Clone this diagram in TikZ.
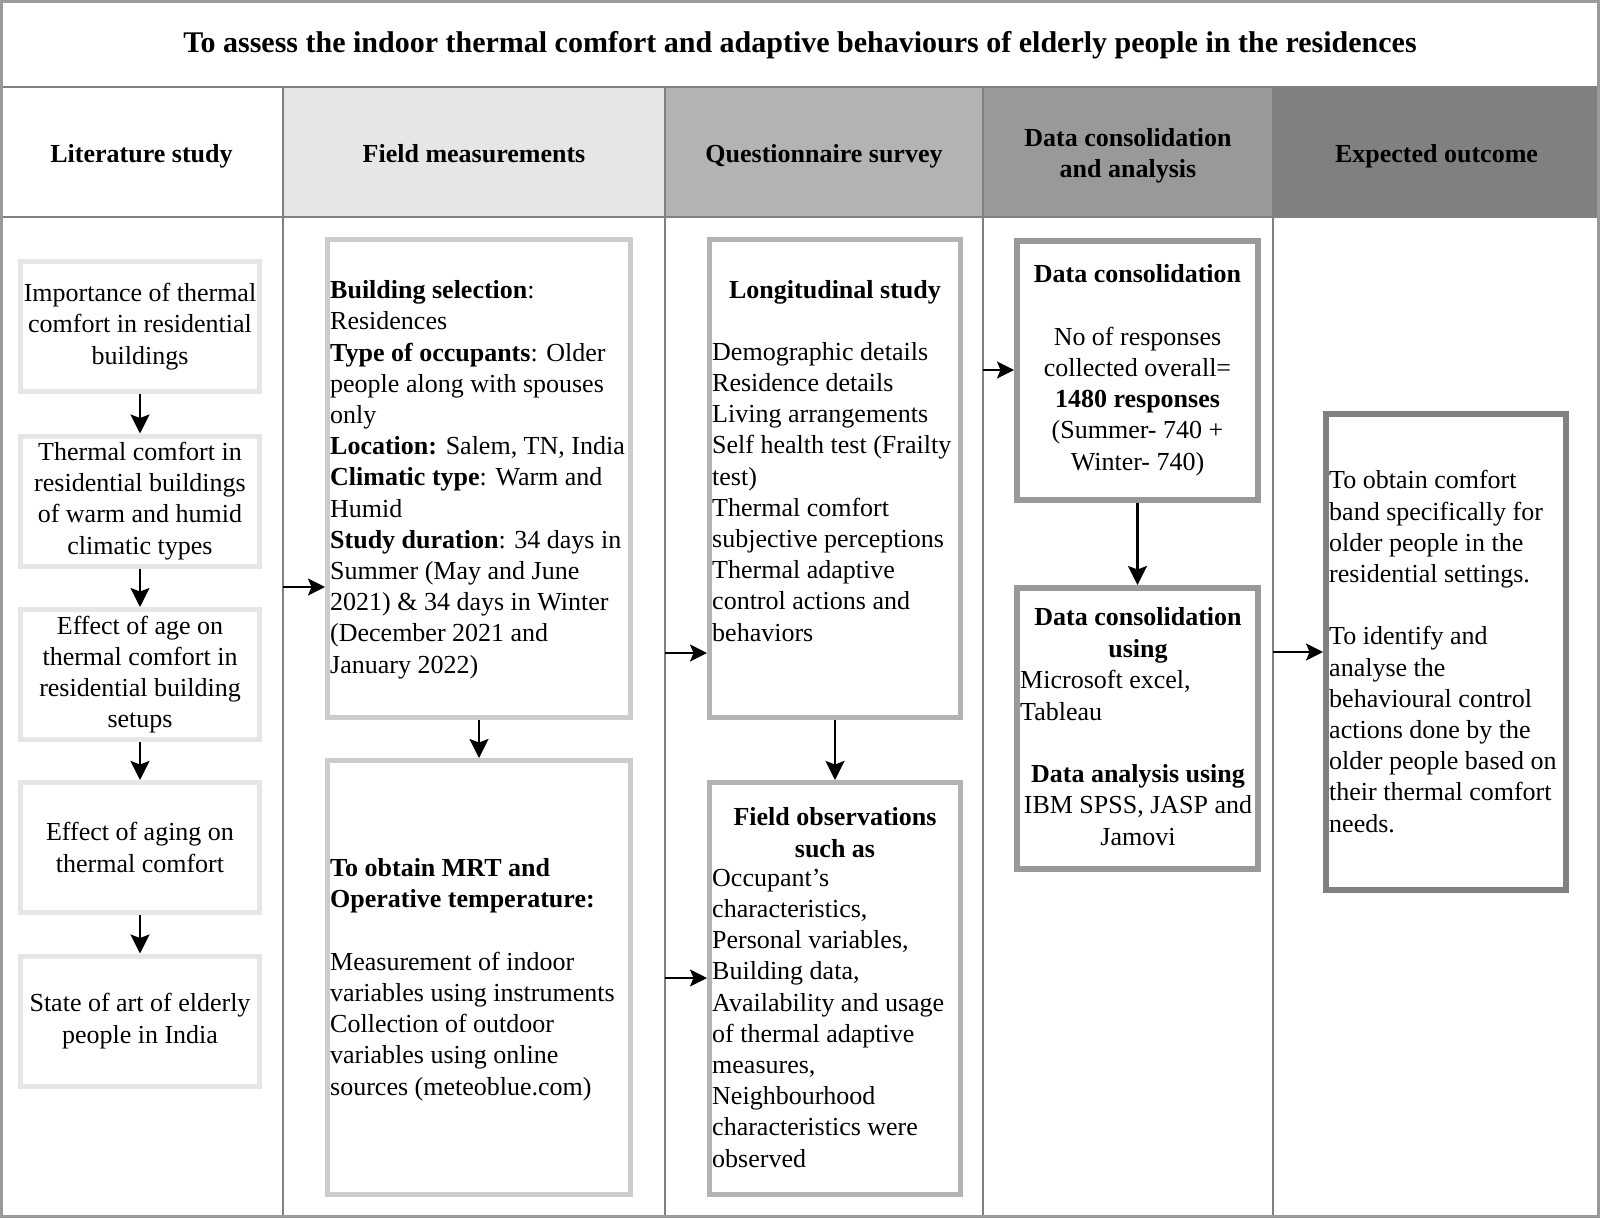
\documentclass[tikz,border=0pt]{standalone}
\usepackage{fontspec}
\setmainfont{Liberation Serif}
\usetikzlibrary{arrows.meta}
\definecolor{gridc}{HTML}{808080}
\definecolor{outc}{HTML}{9A9A9A}
\definecolor{bxa}{HTML}{E6E6E6}
\definecolor{bxb}{HTML}{CCCCCC}
\definecolor{bxc}{HTML}{B3B3B3}
\definecolor{bxd}{HTML}{999999}
\definecolor{bxe}{HTML}{808080}
\definecolor{hb}{HTML}{E6E6E6}
\definecolor{hc}{HTML}{B3B3B3}
\definecolor{hd}{HTML}{999999}
\definecolor{he}{HTML}{808080}
\begin{document}
\begin{tikzpicture}[x=1pt,y=-1pt,
  bodyf/.style={font=\fontsize{26}{31.2}\selectfont},
  txt/.style={bodyf, inner sep=0pt, align=left, anchor=base west},
  txtc/.style={bodyf, inner sep=0pt, align=center, anchor=base},
  hdr/.style={font=\fontsize{26}{31}\selectfont\bfseries, inner sep=0pt, align=center, anchor=base},
  boxa/.style={draw=bxa, line width=5pt, minimum width=239pt, minimum height=130pt, inner sep=0pt, bodyf, align=center},
  boxb/.style={draw=bxb, line width=5pt, minimum width=303pt, inner sep=0pt},
  boxc/.style={draw=bxc, line width=5pt, minimum width=251pt, inner sep=0pt},
  boxd/.style={draw=bxd, line width=6pt, minimum width=241pt, inner sep=0pt},
  boxe/.style={draw=bxe, line width=6pt, minimum width=240pt, inner sep=0pt},
  arr/.style={draw=black, line width=2.5pt, -{Stealth[length=19pt,width=19pt,inset=3.5pt]}},
  harr/.style={draw=black, line width=2pt, -{Stealth[length=17pt,width=17pt,inset=3.5pt]}},
  gridline/.style={draw=gridc, line width=1.8pt}
]
\useasboundingbox (0,0) rectangle (1600,1218);
% header fills
\fill[hb] (283,87) rectangle (665,217);
\fill[hc] (665,87) rectangle (983,217);
\fill[hd] (983,87) rectangle (1273,217);
\fill[he] (1273,87) rectangle (1600,217);
% grid
\draw[gridline] (0,87) -- (1600,87);
\draw[gridline] (0,217) -- (1600,217);
\draw[gridline] (283,87) -- (283,1218);
\draw[gridline] (665,87) -- (665,1218);
\draw[gridline] (983,87) -- (983,1218);
\draw[gridline] (1273,87) -- (1273,1218);
\draw[draw=outc, line width=3pt] (1.5,1.5) rectangle (1598.5,1216.5);
% title and headers (base anchor = baseline of last line)
\node[font=\fontsize{30}{36}\selectfont\bfseries, inner sep=0pt, anchor=base] (title) at (800,52)
  {To assess the indoor thermal comfort and adaptive behaviours of elderly people in the residences};
\node[hdr] (h1) at (141.5,162) {Literature study};
\node[hdr] (h2) at (474,162) {Field measurements};
\node[hdr] (h3) at (824,162) {Questionnaire survey};
\node[hdr] (h4) at (1128,177) {Data consolidation\\and analysis};
\node[hdr] (h5) at (1436.5,162) {Expected outcome};
% column 1
\node[boxa] (b1) at (140,326.5) {Importance of thermal\\comfort in residential\\buildings};
\node[boxa] (b2) at (140,501) {Thermal comfort in\\residential buildings\\of warm and humid\\climatic types};
\node[boxa] (b3) at (140,674.5) {Effect of age on\\thermal comfort in\\residential building\\setups};
\node[boxa] (b4) at (140,847.5) {Effect of aging on\\thermal comfort};
\node[boxa] (b5) at (140,1021) {State of art of elderly\\people in India};
\draw[arr] (b1.south) -- (b2.north);
\draw[arr] (b2.south) -- (b3.north);
\draw[arr] (b3.south) -- (b4.north);
\draw[arr] (b4.south) -- (b5.north);
% column 2
\node[boxb, minimum height=478pt] (bA) at (479,478.5) {};
\node[boxb, minimum height=434pt] (bB) at (479,977.5) {};
\node[txt] (tA) at (330,673) {\textbf{Building selection}:\\
Residences\\
\textbf{Type of occupants}: Older\\
people along with spouses\\
only\\
\textbf{Location:} Salem, TN, India\\
\textbf{Climatic type}: Warm and\\
Humid\\
\textbf{Study duration}: 34 days in\\
Summer (May and June\\
2021) \& 34 days in Winter\\
(December 2021 and\\
January 2022)};
\node[txt] (tB) at (330,1095) {\textbf{To obtain MRT and}\\
\textbf{Operative temperature:}\\[31.2pt]
Measurement of indoor\\
variables using instruments\\
Collection of outdoor\\
variables using online\\
sources (meteoblue.com)};
\coordinate (dA) at (283,587);
\draw[harr] (dA) -- (dA -| bA.west);
\draw[arr] (bA.south) -- (bB.north);
% column 3
\node[boxc, minimum height=478pt] (bC) at (835,478.5) {};
\node[boxc, minimum height=412pt] (bD) at (835,988.5) {};
\node[txtc] (tC1) at (835,298) {\textbf{Longitudinal study}};
\node[txt] (tC2) at (712,641) {Demographic details\\
Residence details\\
Living arrangements\\
Self health test (Frailty\\
test)\\
Thermal comfort\\
subjective perceptions\\
Thermal adaptive\\
control actions and\\
behaviors};
\node[txtc] (tD1) at (835,857) {\textbf{Field observations}\\\textbf{such as}};
\node[txt] (tD2) at (712,1167) {Occupant's\\
characteristics,\\
Personal variables,\\
Building data,\\
Availability and usage\\
of thermal adaptive\\
measures,\\
Neighbourhood\\
characteristics were\\
observed};
\coordinate (dC) at (665,653);
\coordinate (dD) at (665,978);
\draw[harr] (dC) -- (dC -| bC.west);
\draw[arr] (bC.south) -- (bD.north);
\draw[harr] (dD) -- (dD -| bD.west);
% column 4
\node[boxd, minimum height=259pt] (bE) at (1137.5,370.5) {};
\node[boxd, minimum height=281pt] (bF) at (1137.5,728.5) {};
\node[txtc] (tE) at (1137.5,470) {\textbf{Data consolidation}\\[31.2pt]
No of responses\\
collected overall=\\
\textbf{1480 responses}\\
(Summer- 740 +\\
Winter- 740)};
\node[txtc] (tF1) at (1138,657) {\textbf{Data consolidation}\\\textbf{using}};
\node[txt] (tF2) at (1020,720) {Microsoft excel,\\Tableau};
\node[txtc] (tF3) at (1138,845) {\textbf{Data analysis using}\\IBM SPSS, JASP and\\Jamovi};
\coordinate (dE) at (983,370);
\draw[harr] (dE) -- (dE -| bE.west);
\draw[arr] (bE.south) -- (bF.north);
% column 5
\node[boxe, minimum height=476pt] (bG) at (1446,652) {};
\node[txt] (tG) at (1329,832) {To obtain comfort\\
band specifically for\\
older people in the\\
residential settings.\\[31.2pt]
To identify and\\
analyse the\\
behavioural control\\
actions done by the\\
older people based on\\
their thermal comfort\\
needs.};
\coordinate (dG) at (1273,652);
\draw[harr] (dG) -- (dG -| bG.west);
\end{tikzpicture}
\end{document}
